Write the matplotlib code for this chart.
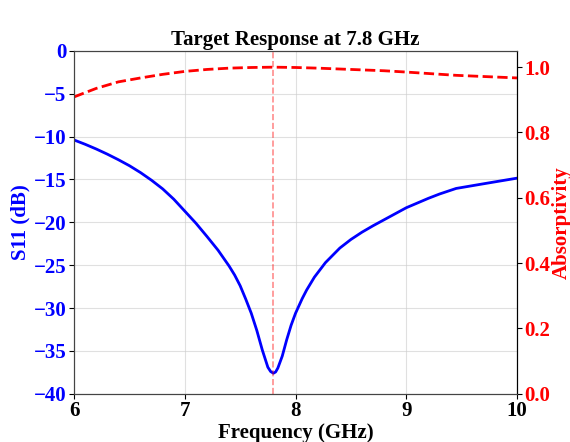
import matplotlib
matplotlib.use('Agg')
import matplotlib.pyplot as plt
import numpy as np

# S11 (GHz, dB)
freq_s11 = [6.0, 6.1, 6.2, 6.3, 6.4, 6.5, 6.6, 6.7, 6.8, 6.9, 7.0, 7.1, 7.2,
            7.3, 7.4, 7.45, 7.5, 7.55, 7.6, 7.65, 7.7, 7.75, 7.775, 7.8, 7.82,
            7.84, 7.88, 7.92, 7.96, 8.0, 8.06, 8.1, 8.17, 8.27, 8.4, 8.5,
            8.6, 8.7, 8.8, 8.9, 9.0, 9.1, 9.2, 9.3, 9.45, 9.7, 10.0]
s11_db = [-10.4, -10.9, -11.45, -12.05, -12.7, -13.4, -14.2, -15.1, -16.1,
          -17.3, -18.7, -20.1, -21.65, -23.25, -25.1, -26.15, -27.4, -28.95,
          -30.6, -32.6, -34.9, -36.9, -37.4, -37.6, -37.45, -37.0, -35.6,
          -33.7, -32.0, -30.6, -28.9, -27.9, -26.4, -24.7, -23.0, -22.0,
          -21.15, -20.4, -19.7, -19.0, -18.3, -17.75, -17.2, -16.7, -16.05,
          -15.5, -14.85]

# absorptivity
freq_abs = [6.0, 6.2, 6.4, 6.6, 6.8, 7.0, 7.2, 7.4, 7.6, 7.8, 8.0, 8.2, 8.5,
            8.8, 9.0, 9.45, 10.0]
absorptivity = [0.909, 0.935, 0.955, 0.967, 0.978, 0.987, 0.993, 0.997,
                0.999, 1.0, 0.999, 0.997, 0.993, 0.989, 0.985, 0.975, 0.967]

target_freq = 7.8
title = 'Target Response at 7.8 GHz'

plt.rcParams['font.family'] = ['Liberation Serif', 'DejaVu Serif']
plt.rcParams['font.weight'] = 'bold'

fig = plt.figure(figsize=(5.7, 4.42), dpi=100)
ax1 = fig.add_axes([0.130, 0.109, 0.777, 0.776])
ax2 = ax1.twinx()

ax1.plot(freq_s11, s11_db, color='blue', lw=2)
ax1.axvline(target_freq, color='red', ls='--', lw=1.2, alpha=0.45)
ax2.plot(freq_abs, absorptivity, color='red', ls='--', lw=2)

ax1.set_xlim(6, 10)
ax1.set_ylim(-40, 0)
ax2.set_ylim(0, 1.05)
ax1.set_xticks([6, 7, 8, 9, 10])
ax1.set_yticks(np.arange(-40, 1, 5))
ax2.set_yticks([0.0, 0.2, 0.4, 0.6, 0.8, 1.0])

ax1.grid(True, color='#cccccc', alpha=0.6, lw=0.8)
ax1.set_xlabel('Frequency (GHz)', fontsize=15, fontweight='bold', labelpad=1)
ax1.set_ylabel('S11 (dB)', fontsize=15, fontweight='bold', color='blue', labelpad=2)
ax2.set_ylabel('Absorptivity', fontsize=15, fontweight='bold', color='red', labelpad=1)
ax1.set_title(title, fontsize=15, fontweight='bold', pad=4)

ax1.tick_params(axis='x', labelsize=15, length=3.5, pad=2)
ax1.tick_params(axis='y', labelsize=15, labelcolor='blue', length=3.5, pad=2)
ax2.tick_params(axis='y', labelsize=15, labelcolor='red', length=3.5, pad=1.5)
for lab in ax1.get_xticklabels() + ax1.get_yticklabels() + ax2.get_yticklabels():
    lab.set_fontweight('bold')

for sp in ['left', 'bottom', 'top']:
    ax1.spines[sp].set_color('#444444')
    ax2.spines[sp].set_color('#444444')
ax2.spines['right'].set_color('black')

fig.savefig('out.png', dpi=100)
